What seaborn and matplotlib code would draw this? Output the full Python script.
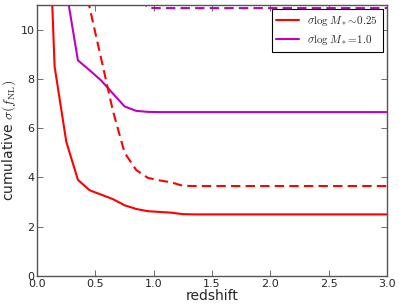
import numpy as np
import pandas as pd
import matplotlib
matplotlib.use("Agg")
import matplotlib.pyplot as plt
import seaborn as sns

z = [0.05, 0.15, 0.25, 0.35, 0.45, 0.55, 0.65, 0.75, 0.85, 0.95, 1.05, 1.15, 1.25,
     1.35, 1.5, 1.75, 2.0, 2.25, 2.5, 2.75, 3.05]

red_solid = [21.0, 8.5, 5.45, 3.9, 3.48, 3.3, 3.12, 2.87, 2.72, 2.63, 2.6, 2.57, 2.51,
             2.5, 2.5, 2.5, 2.5, 2.5, 2.5, 2.5, 2.5]
red_dashed = [30.0, 20.0, 16.0, 13.0, 10.9, 8.8, 6.7, 5.0, 4.3, 3.98, 3.88, 3.8, 3.66,
              3.65, 3.65, 3.65, 3.65, 3.65, 3.65, 3.65, 3.65]
mag_solid = [30.0, 18.0, 11.6, 8.75, 8.35, 7.93, 7.4, 6.88, 6.7, 6.66, 6.65, 6.65, 6.65,
             6.65, 6.65, 6.65, 6.65, 6.65, 6.65, 6.65, 6.65]
mag_dashed = [40.0, 30.0, 24.0, 20.0, 17.0, 15.0, 13.5, 12.5, 11.5, 10.88, 10.87, 10.87, 10.87,
              10.87, 10.87, 10.87, 10.87, 10.87, 10.87, 10.87, 10.87]

labels = [r"$\sigma\log M_*\!\sim\!0.25$", r"$\sigma\log M_*\!=\!1.0$"]

sns.set_style("ticks")
plt.rcParams["font.family"] = ["DejaVu Sans"]
plt.rcParams["mathtext.fontset"] = "cm"
plt.rcParams["xtick.direction"] = "in"
plt.rcParams["ytick.direction"] = "in"
plt.rcParams["xtick.top"] = True
plt.rcParams["ytick.right"] = True

fig = plt.figure(figsize=(3.99, 3.06), dpi=100)
ax = fig.add_axes([0.093, 0.098, 0.877, 0.886])

df = pd.DataFrame({"z": z, "rs": red_solid, "rd": red_dashed, "ms": mag_solid, "md": mag_dashed})
sns.lineplot(data=df, x="z", y="rs", ax=ax, color="#ff0000", lw=1.5, label=labels[0])
sns.lineplot(data=df, x="z", y="ms", ax=ax, color="#c000c0", lw=1.5, label=labels[1])
l3 = sns.lineplot(data=df, x="z", y="rd", ax=ax, color="#ff0000", lw=1.5).lines[-1]
l3.set_dashes((4.5, 2.5))
l4 = sns.lineplot(data=df, x="z", y="md", ax=ax, color="#c000c0", lw=1.5).lines[-1]
l4.set_dashes((4.5, 2.5))

ax.set_xlim(0, 3.0)
ax.set_ylim(0, 11)
ax.set_xticks(np.arange(0, 3.01, 0.5))
ax.set_yticks([0, 2, 4, 6, 8, 10])
ax.tick_params(axis="both", which="major", labelsize=8, length=4, width=0.6, color="#555555", pad=2)
for s in ax.spines.values():
    s.set_linewidth(1.0)
    s.set_color("#555555")
ax.set_xlabel("redshift", fontsize=10, labelpad=0)
ax.set_ylabel(r"cumulative $\sigma(f_{\rm NL})$", fontsize=10, labelpad=2)

leg = ax.legend(loc="upper right", fontsize=8, fancybox=False, framealpha=1,
                edgecolor="black", borderaxespad=0.4, handlelength=2.0)
leg.get_frame().set_linewidth(0.8)

fig.savefig("out.png", dpi=100)
